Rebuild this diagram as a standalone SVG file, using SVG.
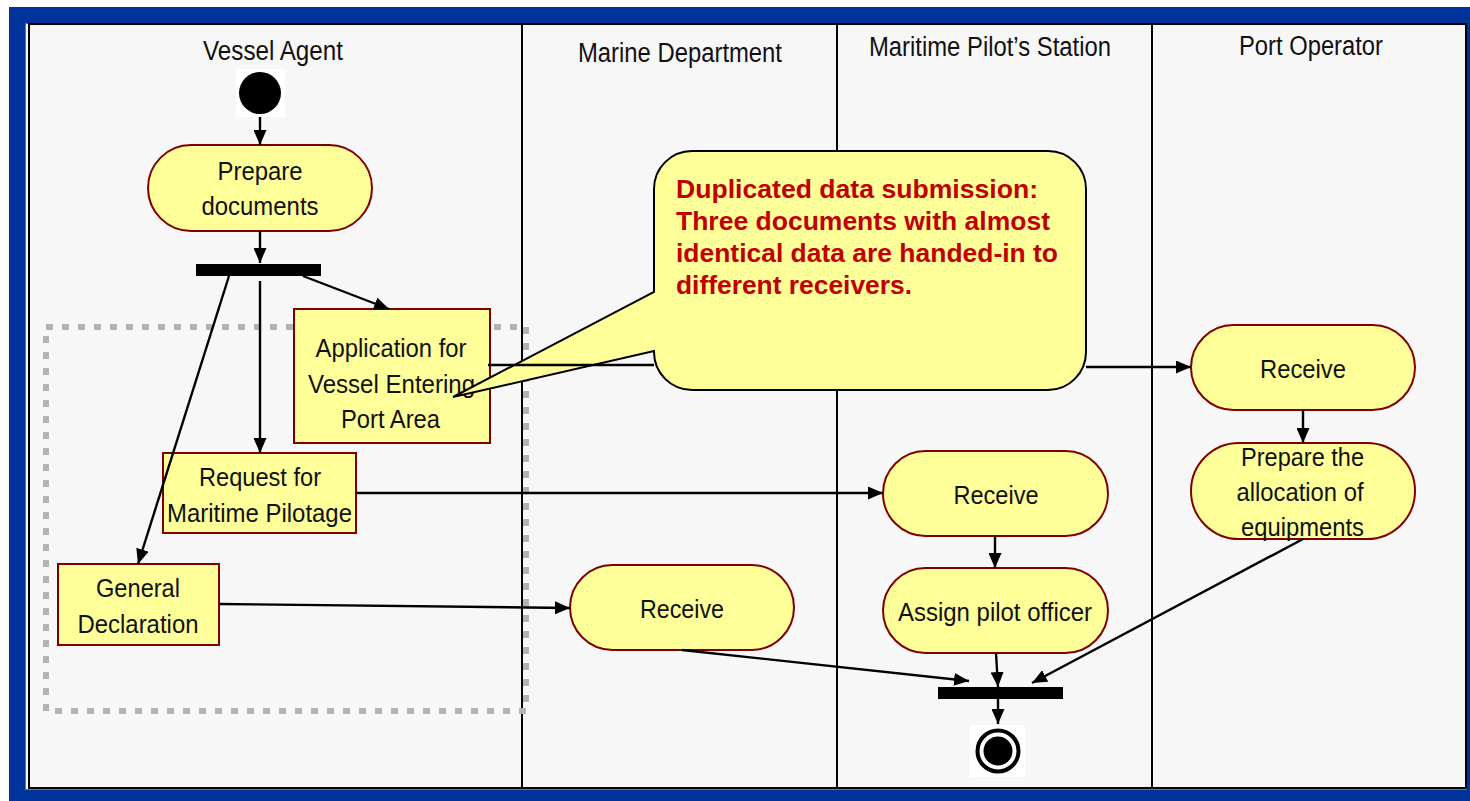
<svg xmlns="http://www.w3.org/2000/svg" width="1470" height="801" viewBox="0 0 1470 801">
  <style>
    .lane { fill: #f7f7f7; stroke: #000; stroke-width: 2; }
    .title { font-family: "Liberation Sans", Arial, sans-serif; font-size: 27px; fill: #111; text-anchor: middle; }
    .act { fill: #ffff99; stroke: #800000; stroke-width: 2; }
    .lbl { font-family: "Liberation Sans", Arial, sans-serif; font-size: 26px; fill: #111; text-anchor: middle; }
    .note { font-family: "Liberation Sans", Arial, sans-serif; font-size: 26px; font-weight: bold; fill: #c00000; }
    .edge { fill: none; stroke: #000; stroke-width: 2.4; }
    .bar { fill: #000; }
  </style>
  <defs>
    <marker id="arrow" markerUnits="userSpaceOnUse" markerWidth="15" markerHeight="13" refX="15" refY="6.5" orient="auto">
      <path d="M0,0 L15,6.5 L0,13 z" fill="#000"/>
    </marker>
  </defs>

  <!-- frame -->
  <rect x="9" y="7" width="1461" height="794" fill="#003399"/>
  <rect x="25.5" y="23.5" width="1441" height="766" fill="#f7f7f7" stroke="#777" stroke-width="1"/>

  <!-- swimlanes -->
  <g id="lanes">
    <g id="lane-vessel-agent">
      <rect class="lane" x="29" y="24" width="493" height="764"/>
      <text class="title" x="273" y="60" textLength="140" lengthAdjust="spacingAndGlyphs">Vessel Agent</text>
    </g>
    <g id="lane-marine-department">
      <rect class="lane" x="522" y="24" width="315" height="764"/>
      <text class="title" x="680" y="62" textLength="204" lengthAdjust="spacingAndGlyphs">Marine Department</text>
    </g>
    <g id="lane-pilot-station">
      <rect class="lane" x="837" y="24" width="315" height="764"/>
      <text class="title" x="990" y="56" textLength="242" lengthAdjust="spacingAndGlyphs">Maritime Pilot’s Station</text>
    </g>
    <g id="lane-port-operator">
      <rect class="lane" x="1152" y="24" width="314" height="764"/>
      <text class="title" x="1311" y="55" textLength="144" lengthAdjust="spacingAndGlyphs">Port Operator</text>
    </g>
  </g>

  <!-- grouping of the submitted documents -->
  <rect id="document-group" x="46" y="327" width="480" height="384" fill="none" stroke="#b3b3b3" stroke-width="6" stroke-dasharray="7 9"/>

  <!-- nodes -->
  <g id="start">
    <rect x="236" y="69" width="49" height="48" fill="#fff"/>
    <circle cx="260" cy="93" r="21" fill="#000"/>
  </g>

  <g id="prepare-documents">
    <rect class="act" x="148" y="145" width="224" height="86" rx="43"/>
    <text class="lbl" x="260" y="180" textLength="85" lengthAdjust="spacingAndGlyphs">Prepare</text>
    <text class="lbl" x="260" y="215" textLength="117" lengthAdjust="spacingAndGlyphs">documents</text>
  </g>

  <g id="fork">
    <rect class="bar" x="196" y="264" width="125" height="12"/>
  </g>

  <g id="application-entering">
    <rect class="act" x="294" y="309" width="196" height="134"/>
    <text class="lbl" x="391" y="357" textLength="151" lengthAdjust="spacingAndGlyphs">Application for</text>
    <text class="lbl" x="391.5" y="393" textLength="167" lengthAdjust="spacingAndGlyphs">Vessel Entering</text>
    <text class="lbl" x="390.5" y="428" textLength="99" lengthAdjust="spacingAndGlyphs">Port Area</text>
  </g>

  <g id="request-pilotage">
    <rect class="act" x="163" y="453" width="193" height="80"/>
    <text class="lbl" x="260" y="486" textLength="122" lengthAdjust="spacingAndGlyphs">Request for</text>
    <text class="lbl" x="259.5" y="522" textLength="185" lengthAdjust="spacingAndGlyphs">Maritime Pilotage</text>
  </g>

  <g id="general-declaration">
    <rect class="act" x="58" y="564" width="161" height="81"/>
    <text class="lbl" x="138" y="597" textLength="84" lengthAdjust="spacingAndGlyphs">General</text>
    <text class="lbl" x="138" y="633" textLength="121" lengthAdjust="spacingAndGlyphs">Declaration</text>
  </g>

  <g id="marine-receive">
    <rect class="act" x="570" y="565" width="224" height="85" rx="42.5"/>
    <text class="lbl" x="682" y="618" textLength="84" lengthAdjust="spacingAndGlyphs">Receive</text>
  </g>

  <g id="pilot-receive">
    <rect class="act" x="883" y="451" width="225" height="85" rx="42.5"/>
    <text class="lbl" x="996" y="504" textLength="85" lengthAdjust="spacingAndGlyphs">Receive</text>
  </g>

  <g id="assign-pilot">
    <rect class="act" x="883" y="568" width="225" height="85" rx="42.5"/>
    <text class="lbl" x="995" y="621" textLength="194" lengthAdjust="spacingAndGlyphs">Assign pilot officer</text>
  </g>

  <g id="port-receive">
    <rect class="act" x="1191" y="325" width="224" height="85" rx="42.5"/>
    <text class="lbl" x="1303" y="378" textLength="86" lengthAdjust="spacingAndGlyphs">Receive</text>
  </g>

  <g id="allocate-equipment">
    <rect class="act" x="1191" y="443" width="224" height="96" rx="48"/>
    <text class="lbl" x="1302.5" y="466" textLength="123" lengthAdjust="spacingAndGlyphs">Prepare the</text>
    <text class="lbl" x="1300" y="501" textLength="127" lengthAdjust="spacingAndGlyphs">allocation of</text>
    <text class="lbl" x="1302.5" y="536" textLength="123" lengthAdjust="spacingAndGlyphs">equipments</text>
  </g>

  <g id="join">
    <rect class="bar" x="938" y="687" width="125" height="12"/>
  </g>

  <g id="end">
    <rect x="970" y="725" width="55" height="52" fill="#fff"/>
    <circle cx="998" cy="751" r="20.5" fill="#fff" stroke="#000" stroke-width="4"/>
    <circle cx="998" cy="751" r="14.5" fill="#000"/>
  </g>

  <!-- callout -->
  <g id="callout">
    <path d="M692,151 H1048 A38,38 0 0 1 1086,189 V352 A38,38 0 0 1 1048,390 H692 A38,38 0 0 1 654,352 V351 L453,397 L654,292 V189 A38,38 0 0 1 692,151 Z" fill="#ffff99" stroke="#000" stroke-width="2" stroke-linejoin="miter"/>
    <text class="note" x="676" y="198" textLength="362" lengthAdjust="spacingAndGlyphs">Duplicated data submission:</text>
    <text class="note" x="676" y="230" textLength="374" lengthAdjust="spacingAndGlyphs">Three documents with almost</text>
    <text class="note" x="676" y="262" textLength="382" lengthAdjust="spacingAndGlyphs">identical data are handed-in to</text>
    <text class="note" x="676" y="294" textLength="236" lengthAdjust="spacingAndGlyphs">different receivers.</text>
  </g>

  <!-- connectors -->
  <g id="connectors">
    <line class="edge" x1="260" y1="117" x2="260" y2="145" marker-end="url(#arrow)"/>
    <line class="edge" x1="260" y1="231" x2="260" y2="263" marker-end="url(#arrow)"/>
    <line class="edge" x1="229" y1="276" x2="138" y2="564" marker-end="url(#arrow)"/>
    <line class="edge" x1="260" y1="281" x2="260" y2="453" marker-end="url(#arrow)"/>
    <line class="edge" x1="303" y1="276" x2="389" y2="309" marker-end="url(#arrow)"/>
    <line class="edge" x1="488" y1="365" x2="654" y2="365"/>
    <line class="edge" x1="1086" y1="367" x2="1191" y2="367" marker-end="url(#arrow)"/>
    <line class="edge" x1="356" y1="493" x2="883" y2="493" marker-end="url(#arrow)"/>
    <line class="edge" x1="219" y1="604" x2="570" y2="608" marker-end="url(#arrow)"/>
    <line class="edge" x1="1303" y1="410" x2="1303" y2="443" marker-end="url(#arrow)"/>
    <line class="edge" x1="995" y1="536" x2="995" y2="568" marker-end="url(#arrow)"/>
    <line class="edge" x1="682" y1="650" x2="969" y2="681" marker-end="url(#arrow)"/>
    <line class="edge" x1="996" y1="653" x2="998" y2="687" marker-end="url(#arrow)"/>
    <line class="edge" x1="1303" y1="539" x2="1032" y2="683" marker-end="url(#arrow)"/>
    <line class="edge" x1="998" y1="699" x2="998" y2="724" marker-end="url(#arrow)"/>
  </g>
</svg>
